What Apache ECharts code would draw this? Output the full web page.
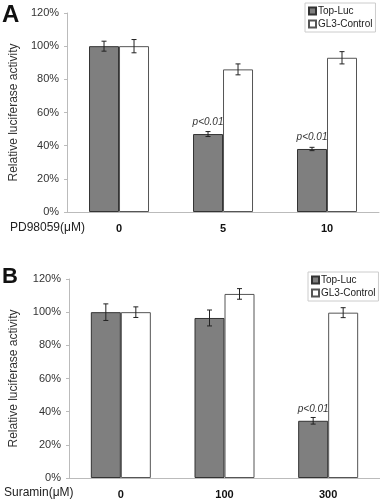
<!DOCTYPE html>
<html>
<head>
<meta charset="utf-8">
<script src="https://cdn.jsdelivr.net/npm/echarts@6/dist/echarts.min.js"></script>
<style>
  html, body { margin: 0; padding: 0; background: #fff; }
  #main { width: 380px; height: 502px; }
</style>
</head>
<body>
<div id="main"></div>
<script>
// panel A - PD98059
var catsA = ['0', '5', '10'];
var topA = [100, 47, 38];
var topAErr = [3, 1.5, 1];
var glA = [100, 86, 93];
var glAErr = [4, 3.3, 3.7];
var pA = ['', 'p<0.01', 'p<0.01'];

// panel B - Suramin
var catsB = ['0', '100', '300'];
var topB = [100, 96.5, 34.5];
var topBErr = [5, 4.8, 2];
var glB = [100, 111, 99.7];
var glBErr = [3.2, 3.2, 3];
var pB = ['', '', 'p<0.01'];

var yMin = 0, yMax = 120, yStep = 20;

var font = 'Liberation Sans';
var greyFill = '#7f7f7f';

function barData(vals, marks) {
  return vals.map(function (v, i) {
    if (!marks || !marks[i]) return v;
    return {
      value: v,
      label: {
        show: true, position: 'top', distance: 7,
        formatter: marks[i], fontStyle: 'italic', fontSize: 10,
        fontFamily: font, color: '#333'
      }
    };
  });
}

function errData(vals, errs) {
  return vals.map(function (v, i) { return [i, v, errs[i]]; });
}

// error bar drawn next to category center, shifted by offset px
function errRender(offset) {
  return function (params, api) {
    var i = api.value(0), v = api.value(1), e = api.value(2);
    var x = api.coord([i, v])[0] + offset;
    var hi = api.coord([i, v + e])[1];
    var lo = api.coord([i, v - e])[1];
    var st = { stroke: '#222', lineWidth: 1 };
    return {
      type: 'group',
      children: [
        { type: 'line', shape: { x1: x, y1: hi, x2: x, y2: lo }, style: st },
        { type: 'line', shape: { x1: x - 2.5, y1: hi, x2: x + 2.5, y2: hi }, style: st },
        { type: 'line', shape: { x1: x - 2.5, y1: lo, x2: x + 2.5, y2: lo }, style: st }
      ]
    };
  };
}

function xAx(cats, idx) {
  return {
    type: 'category', gridIndex: idx, data: cats,
    axisLine: { lineStyle: { color: '#bbb' } },
    axisTick: { alignWithLabel: true, length: 3, lineStyle: { color: '#ccc' } },
    axisLabel: { fontWeight: 'bold', fontSize: 11, color: '#111', fontFamily: font, margin: 11 }
  };
}

function yAx(idx, gap) {
  return {
    type: 'value', gridIndex: idx, min: yMin, max: yMax, interval: yStep,
    name: 'Relative luciferase activity', nameLocation: 'middle', nameGap: gap,
    nameTextStyle: { fontSize: 12, color: '#333', fontFamily: font },
    axisLine: { show: true, lineStyle: { color: '#bbb' } },
    axisTick: { show: true, length: 3, lineStyle: { color: '#bbb' } },
    splitLine: { show: false },
    axisLabel: { formatter: '{value}%', fontSize: 11, color: '#333', fontFamily: font, margin: 8 }
  };
}

function legendAt(left, top) {
  return {
    orient: 'vertical', left: left, top: top,
    data: ['Top-Luc', 'GL3-Control'],
    icon: 'rect', itemWidth: 7, itemHeight: 7, itemGap: 3,
    padding: [3, 3, 3, 3],
    borderColor: '#ccc', borderWidth: 1,
    textStyle: { fontSize: 10, color: '#222', fontFamily: font, padding: [0, 0, 0, -3] }
  };
}

function barSeries(name, vals, marks, idx, white) {
  return {
    name: name, type: 'bar', xAxisIndex: idx, yAxisIndex: idx,
    barWidth: 30, barGap: '0%',
    itemStyle: white
      ? { color: '#fff', borderColor: '#555', borderWidth: 1 }
      : { color: greyFill, borderColor: '#333', borderWidth: 1 },
    data: barData(vals, marks)
  };
}

function errSeries(vals, errs, idx, offset) {
  return {
    type: 'custom', xAxisIndex: idx, yAxisIndex: idx, z: 5,
    renderItem: errRender(offset),
    data: errData(vals, errs)
  };
}

var chart = echarts.init(document.getElementById('main'));
chart.setOption({
  animation: false,
  backgroundColor: '#fff',
  grid: [
    { left: 61, right: 1, top: 13, height: 199 },
    { left: 63, right: -1, top: 279, height: 199 }
  ],
  xAxis: [xAx(catsA, 0), xAx(catsB, 1)],
  yAxis: [yAx(0, 44), yAx(1, 49)],
  legend: [legendAt(305, 3), legendAt(308, 272)],
  graphic: [
    { type: 'text', left: 2, top: 3, style: { text: 'A', fontSize: 24, fontWeight: 'bold', fontFamily: font, fill: '#111' } },
    { type: 'text', left: 2, top: 266, style: { text: 'B', fontSize: 22, fontWeight: 'bold', fontFamily: font, fill: '#111' } },
    { type: 'text', left: 10, top: 222, style: { text: 'PD98059(\u03bcM)', fontSize: 12, fontFamily: font, fill: '#222' } },
    { type: 'text', left: 4, top: 487, style: { text: 'Suramin(\u03bcM)', fontSize: 12, fontFamily: font, fill: '#222' } }
  ],
  series: [
    barSeries('Top-Luc', topA, pA, 0, false),
    barSeries('GL3-Control', glA, null, 0, true),
    errSeries(topA, topAErr, 0, -15),
    errSeries(glA, glAErr, 0, 15),
    barSeries('Top-Luc', topB, pB, 1, false),
    barSeries('GL3-Control', glB, null, 1, true),
    errSeries(topB, topBErr, 1, -15),
    errSeries(glB, glBErr, 1, 15)
  ]
});
</script>
</body>
</html>
